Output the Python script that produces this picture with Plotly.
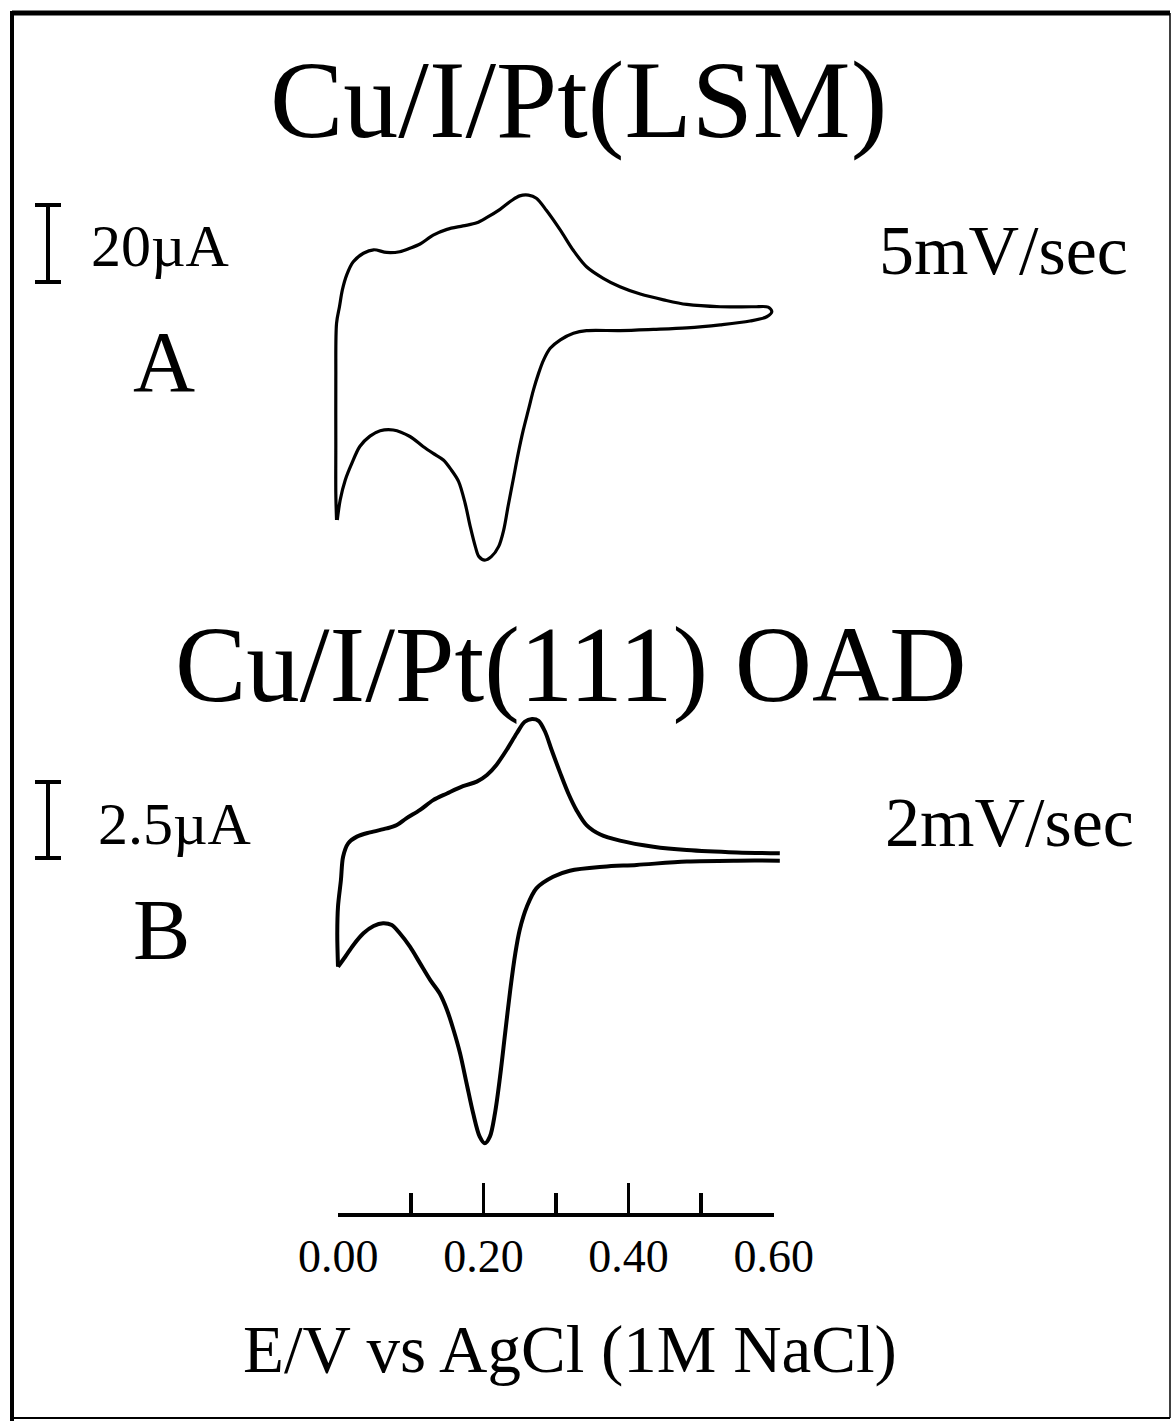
import plotly.graph_objects as go

# ---------------- data (E in V vs AgCl, I in µA) ----------------
# Panel A : Cu/I/Pt(LSM), 5 mV/s  (closed loop: anodic up-sweep, then cathodic return)
A_E = [-0.002, -0.003, -0.003, -0.003, -0.002, 0.002, 0.006, 0.012, 0.021, 0.035,
       0.049, 0.067, 0.085, 0.099, 0.113, 0.131, 0.150, 0.172, 0.191, 0.205,
       0.223, 0.239, 0.250, 0.262, 0.273, 0.287, 0.306, 0.324, 0.342, 0.365,
       0.388, 0.416, 0.448, 0.480, 0.526, 0.572, 0.592, 0.597,
       0.590, 0.567, 0.526, 0.480, 0.434, 0.388, 0.342, 0.324, 0.306, 0.292,
       0.283, 0.276, 0.269, 0.262, 0.255, 0.248, 0.241, 0.234, 0.228, 0.221,
       0.211, 0.202, 0.194, 0.189, 0.182, 0.175, 0.166, 0.156, 0.145, 0.131,
       0.117, 0.099, 0.076, 0.058, 0.044, 0.030, 0.019, 0.010, 0.003, -0.001]
A_I = [-53.7, -46.8, -34.6, -17.3, -2.6, 1.7, 6.1, 10.0, 13.4, 15.6,
       16.5, 15.8, 16.0, 16.9, 18.0, 20.3, 21.8, 22.7, 23.5, 24.9,
       27.0, 29.3, 30.5, 30.7, 29.9, 26.7, 21.6, 16.3, 12.1, 9.1,
       6.9, 5.0, 3.5, 2.3, 1.7, 1.7, 1.6, 0.4,
       -0.9, -2.0, -3.0, -3.8, -4.2, -4.5, -4.5, -5.2, -6.9, -9.1,
       -12.1, -15.6, -19.9, -25.1, -30.3, -36.4, -43.3, -50.2, -56.3, -60.6,
       -63.2, -64.1, -63.2, -60.6, -55.4, -49.4, -43.7, -40.7, -38.1, -36.4,
       -34.6, -32.0, -30.3, -30.5, -31.9, -34.6, -39.0, -43.3, -48.5, -53.7]

# Panel B : Cu/I/Pt(111) OAD, 2 mV/s
B_anodic_E = [0.000, -0.001, 0.000, 0.004, 0.007, 0.014, 0.026, 0.044, 0.067, 0.081,
              0.094, 0.113, 0.131, 0.150, 0.172, 0.191, 0.205, 0.218, 0.232, 0.246,
              0.257, 0.267, 0.276, 0.285, 0.294, 0.306, 0.317, 0.328, 0.342, 0.361,
              0.388, 0.434, 0.480, 0.549, 0.608]
B_anodic_I = [-3.62, -2.52, -1.64, -0.77, 0.00, 0.44, 0.66, 0.80, 0.93, 1.04,
              1.26, 1.54, 1.86, 2.08, 2.32, 2.47, 2.69, 3.02, 3.51, 4.06,
              4.44, 4.53, 4.47, 4.11, 3.51, 2.74, 2.08, 1.54, 1.04, 0.73,
              0.53, 0.33, 0.22, 0.14, 0.11]
B_cathodic_E = [0.608, 0.549, 0.480, 0.411, 0.365, 0.319, 0.296, 0.273, 0.260, 0.250,
                0.244, 0.237, 0.230, 0.223, 0.216, 0.209, 0.202, 0.195, 0.186, 0.177,
                0.168, 0.159, 0.150, 0.140, 0.127, 0.113, 0.099, 0.085, 0.074, 0.062,
                0.049, 0.035, 0.021, 0.010, 0.000]
B_cathodic_I = [-0.13, -0.13, -0.16, -0.27, -0.33, -0.46, -0.66, -1.04, -1.64, -2.41,
                -3.18, -4.39, -5.81, -7.24, -8.44, -9.21, -9.43, -9.21, -8.44, -7.46,
                -6.47, -5.70, -5.04, -4.50, -4.06, -3.51, -2.96, -2.52, -2.25, -2.19,
                -2.28, -2.52, -2.91, -3.29, -3.62]

# current scale bars (µA)
scale_A = 20
scale_B = 2.5
scale_A_label = "20µA"
scale_B_label = "2.5µA"

# potential axis ticks
tick_vals = [0.0, 0.2, 0.4, 0.6]
tick_text = ["0.00", "0.20", "0.40", "0.60"]
minor_step = 0.1

title_A = "Cu/I/Pt(LSM)"
title_B = "Cu/I/Pt(111) OAD"
rate_A = "5mV/sec"
rate_B = "2mV/sec"
panel_A = "A"
panel_B = "B"
x_title = "E/V vs AgCl (1M NaCl)"

# ---------------- layout geometry (pixels) ----------------
W, H = 1172, 1421
X0_PX, X06_PX = 338, 774          # pixel positions of 0.00 V and 0.60 V
px_per_V = (X06_PX - X0_PX) / 0.6
xr = [-X0_PX / px_per_V, (W - X0_PX) / px_per_V]

# Panel A: zero current at pixel row 313.3, 20 µA = 77 px
A_zero_px, A_px_per_uA = 313.3, 77 / 20
yA = [A_zero_px / A_px_per_uA - H / A_px_per_uA, A_zero_px / A_px_per_uA]
# Panel B: zero current at pixel row 856.7, 2.5 µA = 76 px
B_zero_px, B_px_per_uA = 856.7, 76 / 2.5
yB = [B_zero_px / B_px_per_uA - H / B_px_per_uA, B_zero_px / B_px_per_uA]

FONT = "Liberation Serif"
BAR_X = (48 - X0_PX) / px_per_V


def px(x):
    return x / W


def py(y):
    return 1 - y / H


fig = go.Figure()

line_kw = dict(color="black", shape="spline", smoothing=0.9)
fig.add_trace(go.Scatter(x=A_E, y=A_I, mode="lines", line=dict(width=3.2, **line_kw),
                         xaxis="x", yaxis="y", hoverinfo="skip"))
fig.add_trace(go.Scatter(x=B_anodic_E, y=B_anodic_I, mode="lines", line=dict(width=4, **line_kw),
                         xaxis="x", yaxis="y2", hoverinfo="skip"))
fig.add_trace(go.Scatter(x=B_cathodic_E, y=B_cathodic_I, mode="lines", line=dict(width=4, **line_kw),
                         xaxis="x", yaxis="y2", hoverinfo="skip"))

# I-beam current scale bars drawn as error bars
A_bar_mid = (A_zero_px - 243.5) / A_px_per_uA
B_bar_mid = (B_zero_px - 820) / B_px_per_uA
fig.add_trace(go.Scatter(x=[BAR_X], y=[A_bar_mid], mode="markers", marker=dict(size=1, color="rgba(0,0,0,0)"),
                         error_y=dict(type="data", array=[scale_A / 2], width=13, thickness=4, color="black"),
                         xaxis="x", yaxis="y", hoverinfo="skip"))
fig.add_trace(go.Scatter(x=[BAR_X], y=[B_bar_mid], mode="markers", marker=dict(size=1, color="rgba(0,0,0,0)"),
                         error_y=dict(type="data", array=[scale_B / 2], width=13, thickness=4, color="black"),
                         xaxis="x", yaxis="y2", hoverinfo="skip"))

# potential scale axis
fig.add_trace(go.Scatter(x=tick_vals, y=[0] * len(tick_vals), mode="markers",
                         marker=dict(size=1, color="rgba(0,0,0,0)"), xaxis="x3", yaxis="y3",
                         hoverinfo="skip"))

axis_base = py(1213)

fig.update_layout(
    template="none",
    width=W, height=H, autosize=False,
    margin=dict(l=0, r=0, t=0, b=0, pad=0, autoexpand=False),
    paper_bgcolor="white", plot_bgcolor="rgba(0,0,0,0)",
    showlegend=False,
    xaxis=dict(domain=[0, 1], range=xr, visible=False, fixedrange=True, automargin=False),
    yaxis=dict(domain=[0, 1], range=yA, visible=False, fixedrange=True, automargin=False),
    yaxis2=dict(domain=[0, 1], range=yB, visible=False, overlaying="y", fixedrange=True,
                automargin=False),
    xaxis3=dict(domain=[px(X0_PX), px(X06_PX)], range=[-0.0005, 0.6005], anchor="y3",
                automargin=False,
                showline=True, linecolor="black", linewidth=3.5, mirror=False,
                showgrid=False, zeroline=False,
                ticks="inside", ticklen=30, tickwidth=3.5, tickcolor="black",
                tickvals=tick_vals, ticktext=tick_text,
                tickfont=dict(family=FONT, size=46, color="black"),
                ticklabelstandoff=0,
                minor=dict(dtick=minor_step, tick0=0, ticks="inside", ticklen=20,
                           tickwidth=3.5, tickcolor="black", showgrid=False),
                fixedrange=True),
    yaxis3=dict(domain=[axis_base, axis_base + 0.03], range=[0, 1], anchor="x3",
                visible=False, fixedrange=True, automargin=False),
)

ann = [
    (title_A, 578, 100, 110),
    (title_B, 571, 665, 107),
    (scale_A_label, 160, 246, 60),
    (rate_A, 1003, 251, 70),
    (panel_A, 164, 362, 86),
    (scale_B_label, 174, 824, 60),
    (rate_B, 1009, 822, 70),
    (panel_B, 161, 930, 86),
    (x_title, 570, 1349, 67),
]
for text, x, y, size in ann:
    fig.add_annotation(x=px(x), y=py(y), xref="paper", yref="paper", text=text,
                       showarrow=False, xanchor="center", yanchor="middle",
                       font=dict(family=FONT, size=size, color="black"))

# frame around the figure
frame = [
    ((12, 13), (1170, 13), 5),
    ((12, 11), (12, 1421), 4),
    ((1170, 13), (1170, 1418), 1.5),
    ((12, 1418), (1170, 1418), 2),
]
for (xa, ya), (xb, yb), w in frame:
    fig.add_shape(type="line", xref="paper", yref="paper",
                  x0=px(xa), y0=py(ya), x1=px(xb), y1=py(yb),
                  line=dict(color="black", width=w))

fig.write_html("out.html", config={"displayModeBar": False, "staticPlot": True},
               post_script="document.body.style.margin='0px';")
